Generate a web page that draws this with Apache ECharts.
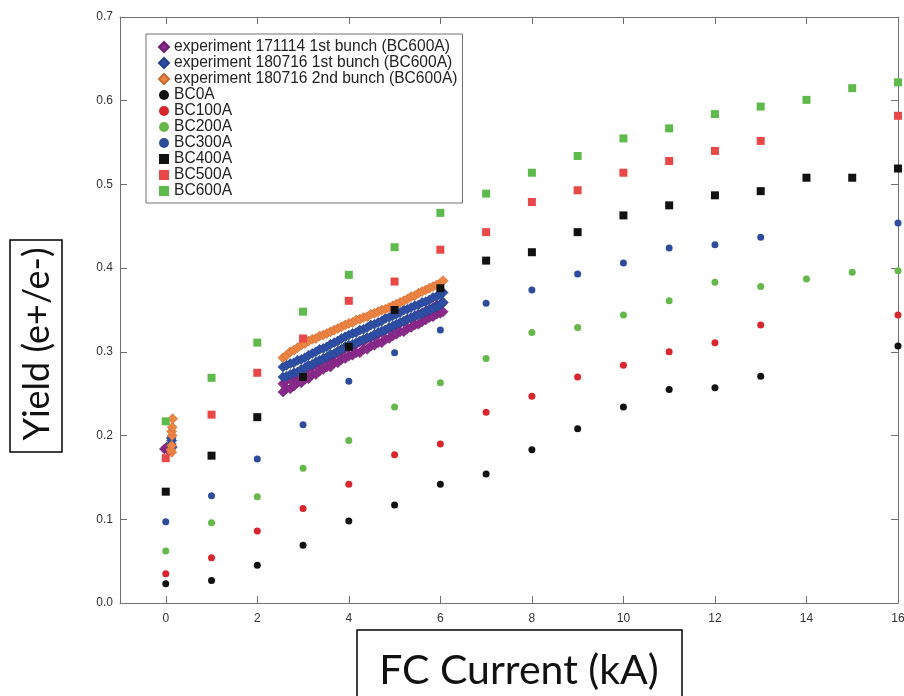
<!DOCTYPE html>
<html>
<head>
<meta charset="utf-8">
<script src="https://cdn.jsdelivr.net/npm/echarts@6/dist/echarts.min.js"></script>
<style>
  html, body { margin: 0; padding: 0; background: #fff; }
  #chart { width: 904px; height: 696px; }
</style>
</head>
<body>
<div id="chart"></div>
<script>
// simulation: FC current (kA) 0..16, null where there is no point
const simX = [0, 1, 2, 3, 4, 5, 6, 7, 8, 9, 10, 11, 12, 13, 14, 15, 16];
const bc0 = [0.023, 0.027, 0.045, 0.069, 0.098, 0.117, 0.142, 0.154, 0.183, 0.208, 0.234, 0.255, 0.257, 0.271, null, null, 0.307];
const bc100 = [0.035, 0.054, 0.086, 0.113, 0.142, 0.177, 0.190, 0.228, 0.247, 0.270, 0.284, 0.300, 0.311, 0.332, null, null, 0.344];
const bc200 = [0.062, 0.096, 0.127, 0.161, 0.194, 0.234, 0.263, 0.292, 0.323, 0.329, 0.344, 0.361, 0.383, 0.378, 0.387, 0.395, 0.397];
const bc300 = [0.097, 0.128, 0.172, 0.213, 0.265, 0.299, 0.326, 0.358, 0.374, 0.393, 0.406, 0.424, 0.428, 0.437, null, null, 0.454];
const bc400 = [0.133, 0.176, 0.222, 0.270, 0.306, 0.350, 0.376, 0.409, 0.419, 0.443, 0.463, 0.475, 0.487, 0.492, 0.508, 0.508, 0.519];
const bc500 = [0.173, 0.225, 0.275, 0.316, 0.361, 0.384, 0.422, 0.443, 0.479, 0.493, 0.514, 0.528, 0.540, 0.552, null, null, 0.582];
const bc600 = [0.217, 0.269, 0.311, 0.348, 0.392, 0.425, 0.466, 0.489, 0.514, 0.534, 0.555, 0.567, 0.584, 0.593, 0.601, 0.615, 0.622];

// experiment scans near 0 kA
const exp1711Zero = [[-0.03, 0.184], [0.02, 0.186], [0.06, 0.182]];
const exp1807aZero = [[0.12, 0.190], [0.13, 0.194], [0.12, 0.197], [0.14, 0.186]];
const exp1807bZero = [[0.13, 0.180], [0.11, 0.183], [0.13, 0.188], [0.14, 0.200], [0.13, 0.205], [0.14, 0.210], [0.15, 0.220]];

// experiment scans 2.5..6 kA
const expX = [2.56, 2.64, 2.72, 2.80, 2.88, 2.96, 3.04, 3.12, 3.20, 3.28, 3.36, 3.44, 3.52, 3.60, 3.68, 3.76, 3.84, 3.92, 4.00, 4.08, 4.16, 4.24, 4.32,
  4.40, 4.48, 4.56, 4.64, 4.72, 4.80, 4.88, 4.96, 5.04, 5.12, 5.20, 5.28, 5.36, 5.44, 5.52, 5.60, 5.68, 5.76, 5.84, 5.92, 6.00, 6.06];
const exp1711Upper = [0.262, 0.266, 0.267, 0.271, 0.272, 0.276, 0.277, 0.281, 0.282, 0.285, 0.287, 0.290, 0.291, 0.294, 0.296, 0.299, 0.300, 0.304, 0.305, 0.307, 0.309, 0.312, 0.312,
  0.316, 0.317, 0.319, 0.321, 0.323, 0.326, 0.327, 0.329, 0.332, 0.334, 0.336, 0.339, 0.340, 0.342, 0.345, 0.346, 0.349, 0.351, 0.353, 0.356, 0.357, 0.359];
const exp1711Lower = [0.252, 0.256, 0.256, 0.259, 0.263, 0.263, 0.267, 0.268, 0.273, 0.273, 0.277, 0.279, 0.282, 0.282, 0.287, 0.287, 0.291, 0.292, 0.295, 0.296, 0.299, 0.299, 0.303,
  0.303, 0.307, 0.308, 0.311, 0.311, 0.315, 0.316, 0.319, 0.321, 0.324, 0.324, 0.328, 0.329, 0.332, 0.333, 0.336, 0.338, 0.341, 0.342, 0.345, 0.346, 0.348];
const exp1807aUpper = [0.282, 0.284, 0.286, 0.287, 0.290, 0.291, 0.293, 0.296, 0.298, 0.300, 0.303, 0.304, 0.306, 0.309, 0.311, 0.313, 0.316, 0.318, 0.320, 0.322, 0.323, 0.326, 0.327,
  0.329, 0.332, 0.333, 0.335, 0.337, 0.340, 0.341, 0.343, 0.345, 0.347, 0.350, 0.351, 0.353, 0.355, 0.356, 0.359, 0.360, 0.362, 0.365, 0.366, 0.368, 0.371];
const exp1807aLower = [0.270, 0.271, 0.273, 0.275, 0.276, 0.279, 0.281, 0.284, 0.285, 0.288, 0.290, 0.292, 0.294, 0.297, 0.298, 0.301, 0.303, 0.306, 0.308, 0.309, 0.311, 0.313, 0.315,
  0.317, 0.318, 0.321, 0.323, 0.325, 0.326, 0.329, 0.331, 0.333, 0.335, 0.337, 0.339, 0.341, 0.343, 0.344, 0.346, 0.348, 0.350, 0.352, 0.354, 0.356, 0.359];
const exp1807b = [0.293, 0.296, 0.300, 0.302, 0.305, 0.308, 0.310, 0.313, 0.315, 0.316, 0.319, 0.320, 0.322, 0.324, 0.326, 0.328, 0.330, 0.332, 0.334, 0.335, 0.338, 0.339, 0.341,
  0.342, 0.345, 0.346, 0.348, 0.350, 0.351, 0.353, 0.355, 0.357, 0.359, 0.361, 0.363, 0.366, 0.367, 0.370, 0.372, 0.374, 0.376, 0.378, 0.380, 0.382, 0.385];

const xTicks = [0, 2, 4, 6, 8, 10, 12, 14, 16];

const FRAME = '#707070';

function simPoints(arr) {
  return simX.map((x, i) => [x, arr[i]]).filter(p => p[1] != null);
}
function expPoints(zero, ...rows) {
  let pts = zero.slice();
  rows.forEach(r => { pts = pts.concat(expX.map((x, i) => [x, r[i]])); });
  return pts;
}

const chart = echarts.init(document.getElementById('chart'));

function expSeries(name, color, border, data) {
  return {
    name: name, type: 'scatter', symbol: 'diamond', symbolSize: 10,
    itemStyle: { color: color, borderColor: border, borderWidth: 0.6, opacity: 1 },
    data: data, animation: false
  };
}
function simSeries(name, symbol, color, arr) {
  return {
    name: name, type: 'scatter', symbol: symbol, symbolSize: symbol === 'rect' ? 8 : 7,
    itemStyle: { color: color, opacity: 1 },
    data: simPoints(arr), animation: false
  };
}

const xCommon = {
  type: 'value', min: -1, max: 16,
  axisLine: { show: true, onZero: false, lineStyle: { color: FRAME, width: 1 } },
  axisTick: { show: true, inside: true, length: 7, customValues: xTicks, lineStyle: { color: FRAME } },
  splitLine: { show: false }
};
const yCommon = {
  type: 'value', min: 0, max: 0.7, interval: 0.1,
  axisLine: { show: true, onZero: false, lineStyle: { color: FRAME, width: 1 } },
  axisTick: { show: true, inside: true, length: 7, lineStyle: { color: FRAME } },
  splitLine: { show: false }
};

chart.setOption({
  backgroundColor: '#fff',
  animation: false,
  grid: { left: 120, right: 6, top: 17, bottom: 93, containLabel: false, outerBoundsMode: 'none' },
  xAxis: [
    Object.assign({}, xCommon, {
      position: 'bottom',
      axisLabel: { show: true, customValues: xTicks, margin: 10, color: '#333', fontSize: 12, fontFamily: 'Liberation Sans', showMaxLabel: true }
    }),
    Object.assign({}, xCommon, { position: 'top', axisLabel: { show: false } })
  ],
  yAxis: [
    Object.assign({}, yCommon, {
      position: 'left',
      axisLabel: { show: true, margin: 7, color: '#333', fontSize: 12, fontFamily: 'Liberation Sans', formatter: v => v.toFixed(1) }
    }),
    Object.assign({}, yCommon, { position: 'right', axisLabel: { show: false } })
  ],
  legend: {
    orient: 'vertical', left: 146, top: 34,
    padding: [5, 5, 4, 12],
    itemWidth: 10, itemHeight: 10, itemGap: 0, itemTextGap: 17,
    borderColor: FRAME, borderWidth: 1, backgroundColor: '#fff',
    textStyle: { fontSize: 15.6, lineHeight: 15, color: '#222', fontFamily: 'Liberation Sans' },
    data: [
      'experiment 171114 1st bunch (BC600A)',
      'experiment 180716 1st bunch (BC600A)',
      'experiment 180716 2nd bunch (BC600A)',
      'BC0A', 'BC100A', 'BC200A', 'BC300A', 'BC400A', 'BC500A', 'BC600A'
    ]
  },
  series: [
    expSeries('experiment 171114 1st bunch (BC600A)', '#8a2a8c', '#6e1f70', expPoints(exp1711Zero, exp1711Upper, exp1711Lower)),
    expSeries('experiment 180716 1st bunch (BC600A)', '#2f4fa6', '#243f88', expPoints(exp1807aZero, exp1807aUpper, exp1807aLower)),
    expSeries('experiment 180716 2nd bunch (BC600A)', '#ee8444', '#c8692f', expPoints(exp1807bZero, exp1807b)),
    simSeries('BC0A', 'circle', '#111111', bc0),
    simSeries('BC100A', 'circle', '#d9262e', bc100),
    simSeries('BC200A', 'circle', '#67b84a', bc200),
    simSeries('BC300A', 'circle', '#2d4d9c', bc300),
    simSeries('BC400A', 'rect', '#111111', bc400),
    simSeries('BC500A', 'rect', '#e84848', bc500),
    simSeries('BC600A', 'rect', '#5fba4c', bc600)
  ],
  graphic: [
    { type: 'rect', shape: { x: 10, y: 240, width: 52, height: 212 }, style: { fill: 'none', stroke: '#000', lineWidth: 1.5 }, silent: true },
    { type: 'text', x: 37, y: 344, rotation: Math.PI / 2,
      style: { text: 'Yield (e+/e-)', font: '36px Lato', fill: '#111', align: 'center', verticalAlign: 'middle' }, silent: true },
    { type: 'rect', shape: { x: 357, y: 630, width: 325, height: 80 }, style: { fill: 'none', stroke: '#000', lineWidth: 1.5 }, silent: true },
    { type: 'text', x: 519, y: 671, style: { text: 'FC Current (kA)', font: '41px Lato', fill: '#111', align: 'center', verticalAlign: 'middle' }, silent: true }
  ]
});
</script>
</body>
</html>
